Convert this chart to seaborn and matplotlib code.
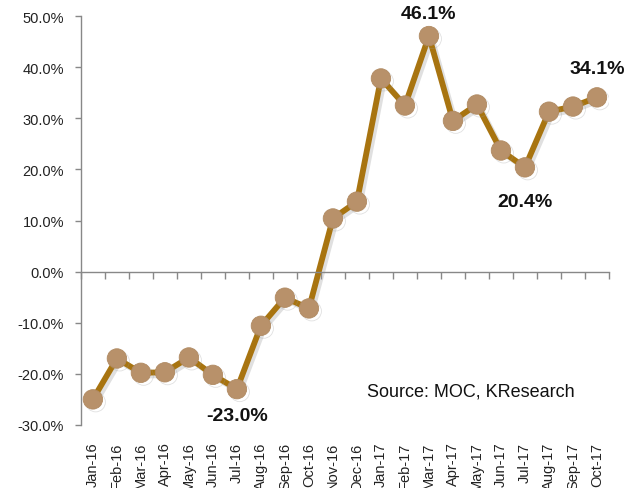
import numpy as np
import pandas as pd
import seaborn as sns
import matplotlib
matplotlib.use("Agg")
import matplotlib.pyplot as plt
import matplotlib.patheffects as pe

months = ["Jan-16", "Feb-16", "Mar-16", "Apr-16", "May-16", "Jun-16", "Jul-16",
          "Aug-16", "Sep-16", "Oct-16", "Nov-16", "Dec-16", "Jan-17", "Feb-17",
          "Mar-17", "Apr-17", "May-17", "Jun-17", "Jul-17", "Aug-17", "Sep-17", "Oct-17"]
growth = [-25.0, -17.0, -19.8, -19.7, -16.8, -20.2, -23.0,
          -10.6, -5.1, -7.2, 10.4, 13.7, 37.8, 32.5,
          46.1, 29.5, 32.7, 23.7, 20.4, 31.3, 32.3, 34.1]
labelled = {"Jul-16": "-23.0%", "Mar-17": "46.1%", "Jul-17": "20.4%", "Oct-17": "34.1%"}
yticks = [-30, -20, -10, 0, 10, 20, 30, 40, 50]
source = "Source: MOC, KResearch"

sns.set_theme(style="white")
plt.rcParams["font.family"] = ["Liberation Sans", "DejaVu Sans"]

df = pd.DataFrame({"idx": np.arange(len(months)), "month": months, "growth": growth})

fig = plt.figure(figsize=(6.37, 4.89), dpi=100)
ax = fig.add_axes([0.127, 0.129, 0.829, 0.836])

sns.lineplot(data=df, x="idx", y="growth", ax=ax, color="#A87410", linewidth=4.2,
             marker="o", markersize=14, markerfacecolor="#B8916A",
             markeredgecolor="#B08A62", markeredgewidth=0.6,
             path_effects=[pe.SimpleLineShadow(offset=(2, -2), shadow_color="#999999", alpha=0.3),
                           pe.Normal()])

ax.set_xlim(-0.5, len(months) - 0.5)
ax.set_ylim(-30, 50)
ax.set_yticks(yticks)
ax.set_yticklabels([f"{v:.1f}%" for v in yticks], fontsize=10.5, color="#222222")
ax.set_xlabel("")
ax.set_ylabel("")

for s in ["top", "right"]:
    ax.spines[s].set_visible(False)
ax.spines["left"].set_color("#888888")
ax.spines["left"].set_linewidth(1.0)
ax.spines["bottom"].set_position(("data", 0))
ax.spines["bottom"].set_color("#888888")
ax.spines["bottom"].set_linewidth(1.0)
ax.set_xticks(np.arange(-0.5, len(months), 1.0))
ax.set_xticklabels([])
ax.tick_params(axis="x", direction="out", length=5, color="#888888", width=1.0, bottom=True)
ax.tick_params(axis="y", direction="out", length=4, color="#888888", width=1.0, left=True, pad=8)

sec = ax.secondary_xaxis("bottom")
sec.set_xticks(np.arange(len(months)))
sec.set_xticklabels(months, rotation=90, fontsize=10.5, color="#222222")
sec.tick_params(length=0, pad=12)
sec.spines["bottom"].set_visible(False)

offsets = {"Jul-16": -19, "Mar-17": 16, "Jul-17": -24.5, "Oct-17": 21}
for m, txt in labelled.items():
    i = months.index(m)
    ax.annotate(txt, (i, growth[i]), xytext=(0, offsets[m]), textcoords="offset points",
                ha="center", va="center", fontsize=14, fontweight="bold", color="#111111")

ax.text(471 / 637, 1 - 392 / 489, source, transform=fig.transFigure, ha="center", va="center",
        fontsize=13, color="#111111")

fig.savefig("out.png", dpi=100)
